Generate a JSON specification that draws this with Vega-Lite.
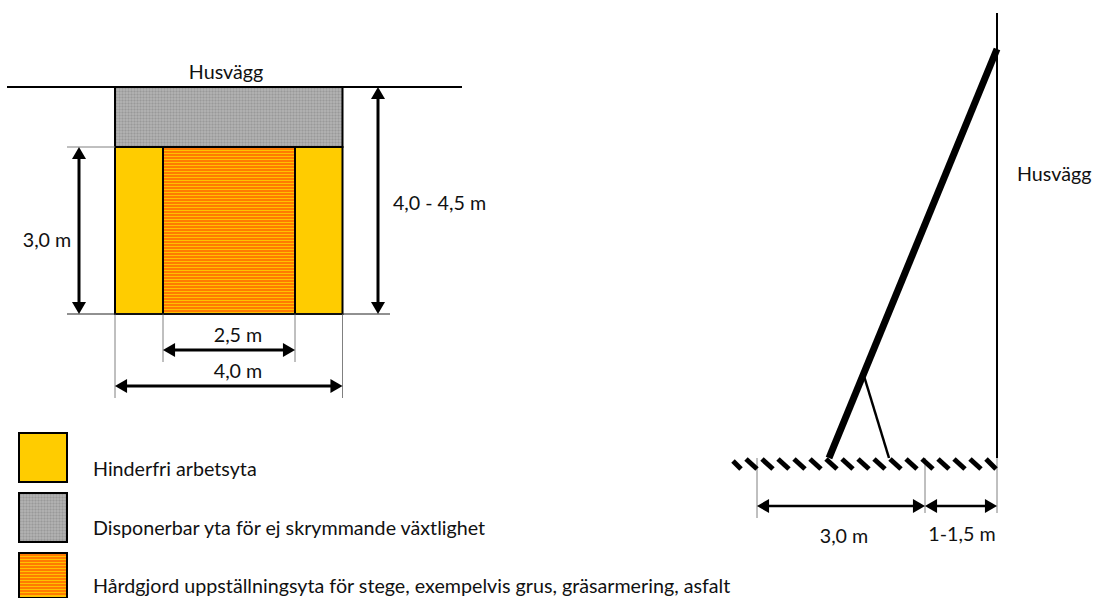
{"$schema":"https://vega.github.io/schema/vega-lite/v6.json","width":1094,"height":598,"padding":0,"autosize":{"type":"fit","contains":"padding"},"background":"white","view":{"stroke":null},
"datasets":{
"fills":[{"x":115,"x2":342.5,"y":87,"y2":147,"kind":"gray"},{"x":115,"x2":342.5,"y":147,"y2":314,"kind":"yellow"},{"x":163,"x2":295,"y":147,"y2":314,"kind":"orange"},{"x":19,"x2":67,"y":433,"y2":482,"kind":"yellow"},{"x":19,"x2":67,"y":493,"y2":542,"kind":"gray"},{"x":19,"x2":67,"y":553,"y2":598,"kind":"orange"}],
"orangeStripes":[{"x":164,"x2":294,"y":149},{"x":164,"x2":294,"y":152},{"x":164,"x2":294,"y":155},{"x":164,"x2":294,"y":158},{"x":164,"x2":294,"y":161},{"x":164,"x2":294,"y":164},{"x":164,"x2":294,"y":167},{"x":164,"x2":294,"y":170},{"x":164,"x2":294,"y":173},{"x":164,"x2":294,"y":176},{"x":164,"x2":294,"y":179},{"x":164,"x2":294,"y":182},{"x":164,"x2":294,"y":185},{"x":164,"x2":294,"y":188},{"x":164,"x2":294,"y":191},{"x":164,"x2":294,"y":194},{"x":164,"x2":294,"y":197},{"x":164,"x2":294,"y":200},{"x":164,"x2":294,"y":203},{"x":164,"x2":294,"y":206},{"x":164,"x2":294,"y":209},{"x":164,"x2":294,"y":212},{"x":164,"x2":294,"y":215},{"x":164,"x2":294,"y":218},{"x":164,"x2":294,"y":221},{"x":164,"x2":294,"y":224},{"x":164,"x2":294,"y":227},{"x":164,"x2":294,"y":230},{"x":164,"x2":294,"y":233},{"x":164,"x2":294,"y":236},{"x":164,"x2":294,"y":239},{"x":164,"x2":294,"y":242},{"x":164,"x2":294,"y":245},{"x":164,"x2":294,"y":248},{"x":164,"x2":294,"y":251},{"x":164,"x2":294,"y":254},{"x":164,"x2":294,"y":257},{"x":164,"x2":294,"y":260},{"x":164,"x2":294,"y":263},{"x":164,"x2":294,"y":266},{"x":164,"x2":294,"y":269},{"x":164,"x2":294,"y":272},{"x":164,"x2":294,"y":275},{"x":164,"x2":294,"y":278},{"x":164,"x2":294,"y":281},{"x":164,"x2":294,"y":284},{"x":164,"x2":294,"y":287},{"x":164,"x2":294,"y":290},{"x":164,"x2":294,"y":293},{"x":164,"x2":294,"y":296},{"x":164,"x2":294,"y":299},{"x":164,"x2":294,"y":302},{"x":164,"x2":294,"y":305},{"x":164,"x2":294,"y":308},{"x":164,"x2":294,"y":311},
{"x":20,"x2":66,"y":555},{"x":20,"x2":66,"y":558},{"x":20,"x2":66,"y":561},{"x":20,"x2":66,"y":564},{"x":20,"x2":66,"y":567},{"x":20,"x2":66,"y":570},{"x":20,"x2":66,"y":573},{"x":20,"x2":66,"y":576},{"x":20,"x2":66,"y":579},{"x":20,"x2":66,"y":582},{"x":20,"x2":66,"y":585},{"x":20,"x2":66,"y":588},{"x":20,"x2":66,"y":591},{"x":20,"x2":66,"y":594}],
"grayH":[{"x":116,"x2":342,"y":90},{"x":116,"x2":342,"y":93},{"x":116,"x2":342,"y":96},{"x":116,"x2":342,"y":99},{"x":116,"x2":342,"y":102},{"x":116,"x2":342,"y":105},{"x":116,"x2":342,"y":108},{"x":116,"x2":342,"y":111},{"x":116,"x2":342,"y":114},{"x":116,"x2":342,"y":117},{"x":116,"x2":342,"y":120},{"x":116,"x2":342,"y":123},{"x":116,"x2":342,"y":126},{"x":116,"x2":342,"y":129},{"x":116,"x2":342,"y":132},{"x":116,"x2":342,"y":135},{"x":116,"x2":342,"y":138},{"x":116,"x2":342,"y":141},{"x":116,"x2":342,"y":144},
{"x":20,"x2":66,"y":496},{"x":20,"x2":66,"y":499},{"x":20,"x2":66,"y":502},{"x":20,"x2":66,"y":505},{"x":20,"x2":66,"y":508},{"x":20,"x2":66,"y":511},{"x":20,"x2":66,"y":514},{"x":20,"x2":66,"y":517},{"x":20,"x2":66,"y":520},{"x":20,"x2":66,"y":523},{"x":20,"x2":66,"y":526},{"x":20,"x2":66,"y":529},{"x":20,"x2":66,"y":532},{"x":20,"x2":66,"y":535},{"x":20,"x2":66,"y":538}],
"grayV":[{"x":118,"y":88,"y2":146},{"x":121,"y":88,"y2":146},{"x":124,"y":88,"y2":146},{"x":127,"y":88,"y2":146},{"x":130,"y":88,"y2":146},{"x":133,"y":88,"y2":146},{"x":136,"y":88,"y2":146},{"x":139,"y":88,"y2":146},{"x":142,"y":88,"y2":146},{"x":145,"y":88,"y2":146},{"x":148,"y":88,"y2":146},{"x":151,"y":88,"y2":146},{"x":154,"y":88,"y2":146},{"x":157,"y":88,"y2":146},{"x":160,"y":88,"y2":146},{"x":163,"y":88,"y2":146},{"x":166,"y":88,"y2":146},{"x":169,"y":88,"y2":146},{"x":172,"y":88,"y2":146},{"x":175,"y":88,"y2":146},{"x":178,"y":88,"y2":146},{"x":181,"y":88,"y2":146},{"x":184,"y":88,"y2":146},{"x":187,"y":88,"y2":146},{"x":190,"y":88,"y2":146},{"x":193,"y":88,"y2":146},{"x":196,"y":88,"y2":146},{"x":199,"y":88,"y2":146},{"x":202,"y":88,"y2":146},{"x":205,"y":88,"y2":146},{"x":208,"y":88,"y2":146},{"x":211,"y":88,"y2":146},{"x":214,"y":88,"y2":146},{"x":217,"y":88,"y2":146},{"x":220,"y":88,"y2":146},{"x":223,"y":88,"y2":146},{"x":226,"y":88,"y2":146},{"x":229,"y":88,"y2":146},{"x":232,"y":88,"y2":146},{"x":235,"y":88,"y2":146},{"x":238,"y":88,"y2":146},{"x":241,"y":88,"y2":146},{"x":244,"y":88,"y2":146},{"x":247,"y":88,"y2":146},{"x":250,"y":88,"y2":146},{"x":253,"y":88,"y2":146},{"x":256,"y":88,"y2":146},{"x":259,"y":88,"y2":146},{"x":262,"y":88,"y2":146},{"x":265,"y":88,"y2":146},{"x":268,"y":88,"y2":146},{"x":271,"y":88,"y2":146},{"x":274,"y":88,"y2":146},{"x":277,"y":88,"y2":146},{"x":280,"y":88,"y2":146},{"x":283,"y":88,"y2":146},{"x":286,"y":88,"y2":146},{"x":289,"y":88,"y2":146},{"x":292,"y":88,"y2":146},{"x":295,"y":88,"y2":146},{"x":298,"y":88,"y2":146},{"x":301,"y":88,"y2":146},{"x":304,"y":88,"y2":146},{"x":307,"y":88,"y2":146},{"x":310,"y":88,"y2":146},{"x":313,"y":88,"y2":146},{"x":316,"y":88,"y2":146},{"x":319,"y":88,"y2":146},{"x":322,"y":88,"y2":146},{"x":325,"y":88,"y2":146},{"x":328,"y":88,"y2":146},{"x":331,"y":88,"y2":146},{"x":334,"y":88,"y2":146},{"x":337,"y":88,"y2":146},{"x":340,"y":88,"y2":146},
{"x":22,"y":494,"y2":541},{"x":25,"y":494,"y2":541},{"x":28,"y":494,"y2":541},{"x":31,"y":494,"y2":541},{"x":34,"y":494,"y2":541},{"x":37,"y":494,"y2":541},{"x":40,"y":494,"y2":541},{"x":43,"y":494,"y2":541},{"x":46,"y":494,"y2":541},{"x":49,"y":494,"y2":541},{"x":52,"y":494,"y2":541},{"x":55,"y":494,"y2":541},{"x":58,"y":494,"y2":541},{"x":61,"y":494,"y2":541},{"x":64,"y":494,"y2":541}],
"lines":[
{"x":7,"x2":462,"y":87,"y2":87,"kind":"wall"},
{"x":997,"x2":997,"y":13,"y2":458,"kind":"wall"},
{"x":67,"x2":115,"y":147,"y2":147,"kind":"guide"},
{"x":67,"x2":390,"y":314,"y2":314,"kind":"guideDark"},
{"x":115,"x2":115,"y":314,"y2":398,"kind":"guide"},
{"x":342.5,"x2":342.5,"y":314,"y2":398,"kind":"guide"},
{"x":163,"x2":163,"y":314,"y2":362,"kind":"guide"},
{"x":295,"x2":295,"y":314,"y2":362,"kind":"guide"},
{"x":757,"x2":757,"y":458,"y2":518,"kind":"guide"},
{"x":925,"x2":925,"y":458,"y2":513,"kind":"guide"},
{"x":997,"x2":997,"y":458,"y2":513,"kind":"guide"},
{"x":79,"x2":79,"y":155,"y2":306,"kind":"dim"},
{"x":378,"x2":378,"y":95,"y2":306,"kind":"dim"},
{"x":171,"x2":287,"y":350,"y2":350,"kind":"dim"},
{"x":123,"x2":335,"y":386,"y2":386,"kind":"dim"},
{"x":765,"x2":917,"y":506,"y2":506,"kind":"dimThin"},
{"x":933,"x2":989,"y":506,"y2":506,"kind":"dimThin"},
{"x":997,"x2":829,"y":49,"y2":458,"kind":"ladder"},
{"x":864,"x2":889,"y":376,"y2":458,"kind":"support"},
{"x":733,"x2":741,"y":461,"y2":469,"kind":"hatch"},
{"x":746,"x2":757,"y":459,"y2":469,"kind":"hatch"},
{"x":762,"x2":773,"y":459,"y2":469,"kind":"hatch"},
{"x":778,"x2":789,"y":459,"y2":469,"kind":"hatch"},
{"x":794,"x2":805,"y":459,"y2":469,"kind":"hatch"},
{"x":810,"x2":821,"y":459,"y2":469,"kind":"hatch"},
{"x":826,"x2":837,"y":459,"y2":469,"kind":"hatch"},
{"x":842,"x2":853,"y":459,"y2":469,"kind":"hatch"},
{"x":858,"x2":869,"y":459,"y2":469,"kind":"hatch"},
{"x":874,"x2":885,"y":459,"y2":469,"kind":"hatch"},
{"x":890,"x2":901,"y":459,"y2":469,"kind":"hatch"},
{"x":906,"x2":917,"y":459,"y2":469,"kind":"hatch"},
{"x":922,"x2":933,"y":459,"y2":469,"kind":"hatch"},
{"x":938,"x2":949,"y":459,"y2":469,"kind":"hatch"},
{"x":954,"x2":965,"y":459,"y2":469,"kind":"hatch"},
{"x":970,"x2":981,"y":459,"y2":469,"kind":"hatch"},
{"x":986,"x2":996,"y":459,"y2":469,"kind":"hatch"}],
"arrows":[
{"x":79,"y":153,"dir":"up"},{"x":79,"y":308,"dir":"down"},
{"x":378,"y":93,"dir":"up"},{"x":378,"y":308,"dir":"down"},
{"x":169,"y":350,"dir":"left"},{"x":289,"y":350,"dir":"right"},
{"x":121,"y":386,"dir":"left"},{"x":336.5,"y":386,"dir":"right"},
{"x":763,"y":506,"dir":"left"},{"x":919,"y":506,"dir":"right"},
{"x":931,"y":506,"dir":"left"},{"x":991,"y":506,"dir":"right"}],
"labels":[
{"x":226,"y":73,"t":"Husvägg","a":"c"},
{"x":439.5,"y":204,"t":"4,0 - 4,5 m","a":"c"},
{"x":47,"y":241,"t":"3,0 m","a":"c"},
{"x":238,"y":336,"t":"2,5 m","a":"c"},
{"x":238,"y":372,"t":"4,0 m","a":"c"},
{"x":844,"y":537,"t":"3,0 m","a":"c"},
{"x":962,"y":535,"t":"1-1,5 m","a":"c"},
{"x":1017,"y":175,"t":"Husvägg","a":"l"},
{"x":93,"y":470,"t":"Hinderfri arbetsyta","a":"l"},
{"x":93,"y":529,"t":"Disponerbar yta för ej skrymmande växtlighet","a":"l"},
{"x":93,"y":587,"t":"Hårdgjord uppställningsyta för stege, exempelvis grus, gräsarmering, asfalt","a":"l"}]
},
"encoding":{"x":{"field":"x","type":"quantitative","scale":{"domain":[0,1094],"nice":false,"zero":false},"axis":null},"y":{"field":"y","type":"quantitative","scale":{"domain":[0,598],"nice":false,"zero":false,"reverse":true},"axis":null}},
"layer":[
{"data":{"name":"fills"},"mark":{"type":"rect"},"encoding":{"x2":{"field":"x2"},"y2":{"field":"y2"},"fill":{"field":"kind","type":"nominal","legend":null,"scale":{"domain":["gray","yellow","orange"],"range":["#999999","#FFCC00","#FFC000"]}}}},
{"data":{"name":"orangeStripes"},"mark":{"type":"rule","color":"#FF6400","strokeWidth":1.4},"encoding":{"x2":{"field":"x2"}}},
{"data":{"name":"grayH"},"mark":{"type":"rule","color":"#ffffff","strokeWidth":1,"opacity":0.25},"encoding":{"x2":{"field":"x2"}}},
{"data":{"name":"grayV"},"mark":{"type":"rule","color":"#ffffff","strokeWidth":1,"opacity":0.25},"encoding":{"y2":{"field":"y2"}}},
{"data":{"name":"fills"},"mark":{"type":"rect","fillOpacity":0,"stroke":"#000000","strokeWidth":2,"clip":true},"encoding":{"x2":{"field":"x2"},"y2":{"field":"y2"}}},
{"data":{"name":"lines"},"transform":[{"filter":"datum.kind==='guide'"}],"mark":{"type":"rule","color":"#808080","strokeWidth":1},"encoding":{"x2":{"field":"x2"},"y2":{"field":"y2"}}},
{"data":{"name":"lines"},"transform":[{"filter":"datum.kind==='guideDark'"}],"mark":{"type":"rule","color":"#222222","strokeWidth":1},"encoding":{"x2":{"field":"x2"},"y2":{"field":"y2"}}},
{"data":{"name":"lines"},"transform":[{"filter":"datum.kind==='wall'"}],"mark":{"type":"rule","color":"#000000","strokeWidth":2},"encoding":{"x2":{"field":"x2"},"y2":{"field":"y2"}}},
{"data":{"name":"lines"},"transform":[{"filter":"datum.kind==='dim'"}],"mark":{"type":"rule","color":"#000000","strokeWidth":3},"encoding":{"x2":{"field":"x2"},"y2":{"field":"y2"}}},
{"data":{"name":"lines"},"transform":[{"filter":"datum.kind==='dimThin'"}],"mark":{"type":"rule","color":"#000000","strokeWidth":2.5},"encoding":{"x2":{"field":"x2"},"y2":{"field":"y2"}}},
{"data":{"name":"lines"},"transform":[{"filter":"datum.kind==='ladder'"}],"mark":{"type":"rule","color":"#000000","strokeWidth":7},"encoding":{"x2":{"field":"x2"},"y2":{"field":"y2"}}},
{"data":{"name":"lines"},"transform":[{"filter":"datum.kind==='support'"}],"mark":{"type":"rule","color":"#000000","strokeWidth":2.5},"encoding":{"x2":{"field":"x2"},"y2":{"field":"y2"}}},
{"data":{"name":"lines"},"transform":[{"filter":"datum.kind==='hatch'"}],"mark":{"type":"rule","color":"#000000","strokeWidth":5},"encoding":{"x2":{"field":"x2"},"y2":{"field":"y2"}}},
{"data":{"name":"arrows"},"mark":{"type":"point","filled":true,"color":"#000000","opacity":1,"size":196},"encoding":{"shape":{"field":"dir","type":"nominal","legend":null,"scale":{"domain":["up","down","left","right"],"range":["triangle-up","triangle-down","triangle-left","triangle-right"]}}}},
{"data":{"name":"labels"},"transform":[{"filter":"datum.a==='c'"}],"mark":{"type":"text","font":"Lato","fontSize":19.7,"color":"#111111","align":"center","baseline":"middle"},"encoding":{"text":{"field":"t"}}},
{"data":{"name":"labels"},"transform":[{"filter":"datum.a==='l'"}],"mark":{"type":"text","font":"Lato","fontSize":19.7,"color":"#111111","align":"left","baseline":"middle"},"encoding":{"text":{"field":"t"}}}
]}
